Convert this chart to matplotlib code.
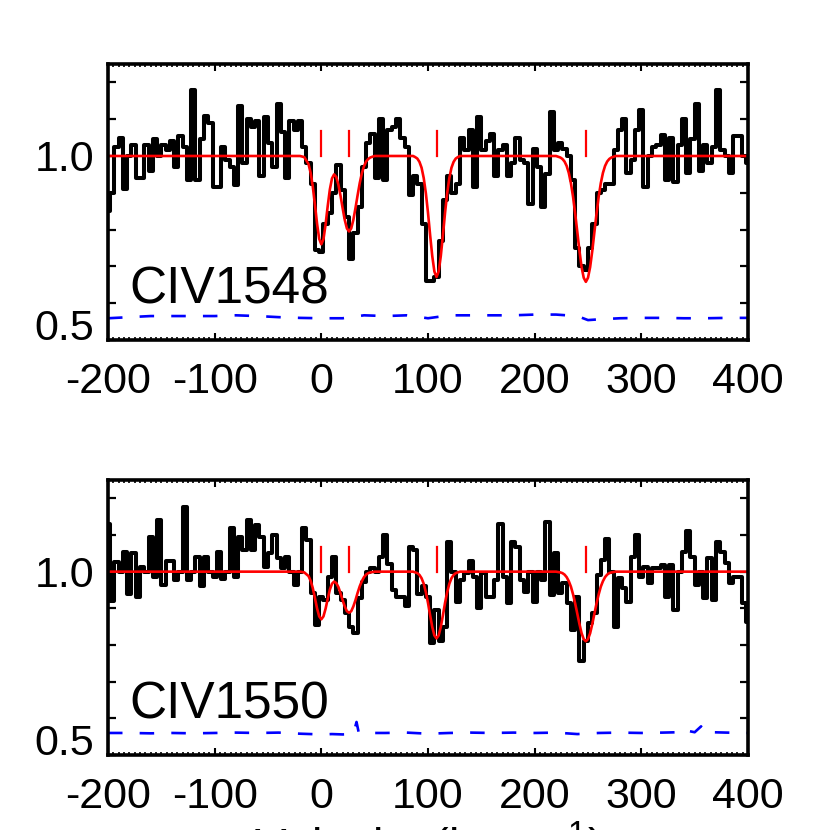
import numpy as np
import matplotlib
matplotlib.use("Agg")
import matplotlib.pyplot as plt
from matplotlib.ticker import MultipleLocator

plt.rcParams['font.family'] = ['Liberation Sans', 'DejaVu Sans']
plt.rcParams['axes.unicode_minus'] = False
plt.rcParams['mathtext.default'] = 'regular'

# velocity grid of the spectrum pixels (km/s)
vel = np.arange(-200, 401, 4)

# normalized flux, CIV 1548
flux_1548 = [
    0.85, 0.90, 1.025, 1.05, 0.91, 1.00, 1.03, 0.94, 0.94, 1.03,
    0.96, 1.045, 1.00, 1.03, 1.015, 1.04, 0.97, 1.055, 1.025, 0.935,
    1.18, 0.935, 1.045, 1.11, 1.09, 0.917, 0.917, 1.025, 0.99, 0.97,
    0.92, 1.135, 0.98, 1.10, 1.08, 1.095, 0.945, 1.105, 1.035, 0.97,
    1.14, 1.065, 0.94, 1.095, 1.07, 1.095, 1.025, 0.98, 0.925, 0.745,
    0.74, 0.815, 0.845, 0.90, 0.975, 0.907, 0.835, 0.72, 0.79, 0.86,
    0.97, 1.035, 1.06, 0.94, 1.10, 0.935, 1.07, 1.08, 1.10, 1.05,
    1.025, 0.895, 0.945, 0.925, 0.815, 0.66, 0.66, 0.67, 0.77, 0.88,
    0.945, 0.90, 0.925, 1.05, 1.015, 1.07, 0.917, 1.107, 1.015, 1.04,
    1.06, 0.945, 1.015, 1.03, 0.945, 0.98, 1.05, 0.99, 0.98, 0.87,
    1.02, 0.97, 0.86, 0.95, 1.12, 1.015, 1.035, 1.02, 1.00, 0.935,
    0.75, 0.70, 0.69, 0.75, 0.815, 0.90, 0.907, 0.925, 0.925, 1.015,
    1.07, 1.10, 0.955, 0.99, 1.07, 1.125, 0.917, 1.00, 1.025, 1.03,
    1.057, 0.935, 1.05, 0.93, 1.03, 1.10, 0.953, 1.045, 1.14, 0.96,
    1.03, 0.98, 1.025, 1.18, 1.015, 1.00, 0.953, 1.053, 1.053, 1.00,
    0.98,
]

# normalized flux, CIV 1550
flux_1550 = [
    1.13, 0.92, 1.027, 1.00, 1.054, 0.94, 1.05, 0.93, 1.014, 1.00,
    1.095, 0.986, 1.14, 0.964, 1.03, 1.03, 0.977, 1.00, 1.177, 0.977,
    1.00, 1.04, 0.96, 1.04, 1.00, 0.986, 1.054, 0.98, 1.00, 1.118,
    0.986, 1.095, 1.06, 1.14, 1.06, 1.127, 1.095, 1.014, 1.05, 1.10,
    1.036, 1.009, 1.04, 1.00, 0.964, 1.00, 1.118, 1.086, 0.941, 0.855,
    0.932, 0.923, 0.986, 1.04, 0.941, 0.923, 0.886, 0.85, 0.832, 0.927,
    0.973, 1.00, 1.01, 1.00, 1.04, 1.10, 1.02, 0.95, 0.932, 0.932,
    0.905, 1.068, 1.06, 0.94, 0.96, 0.932, 0.805, 0.895, 0.81, 0.85,
    1.08, 1.00, 0.918, 0.977, 0.995, 1.03, 0.986, 0.90, 0.995, 0.932,
    0.932, 0.977, 1.13, 0.986, 0.914, 1.08, 1.068, 0.977, 0.945, 1.00,
    0.918, 1.00, 0.977, 1.136, 0.936, 1.05, 0.941, 0.968, 0.914, 0.84,
    0.932, 0.755, 0.81, 0.859, 0.886, 0.99, 1.032, 1.09, 1.00, 0.85,
    0.982, 0.955, 0.918, 1.04, 1.10, 0.986, 1.014, 0.968, 1.009, 1.01,
    1.018, 0.932, 1.018, 0.895, 1.00, 1.054, 1.11, 1.04, 0.964, 1.00,
    0.927, 1.036, 0.923, 1.08, 1.054, 1.023, 0.968, 0.986, 0.986, 0.914,
    0.864,
]

# fitted model, sampled on a finer grid across the absorption
fit_vel = np.concatenate([[-200], [-20, -16, -12], np.arange(-10, 51, 2),
                          np.arange(86, 131, 2), np.arange(220, 277, 2), [400]])
fit_1548 = (
    [1.0]
    + [1.0, 0.997, 0.978, 0.954, 0.917, 0.868, 0.816, 0.775, 0.760, 0.774,
       0.814, 0.864, 0.909, 0.939, 0.950, 0.943, 0.922, 0.892, 0.858, 0.826,
       0.803, 0.795, 0.803, 0.826, 0.858, 0.893, 0.926, 0.953, 0.972, 0.985,
       0.992, 0.996, 0.998, 1.0]
    + [1.0, 0.997, 0.993, 0.984, 0.968, 0.940, 0.899, 0.846, 0.785, 0.728,
       0.686, 0.671, 0.686, 0.728, 0.785, 0.846, 0.899, 0.940, 0.968, 0.984,
       0.993, 0.997, 1.0]
    + [1.0, 0.998, 0.996, 0.992, 0.985, 0.973, 0.954, 0.926, 0.889, 0.843,
       0.793, 0.742, 0.698, 0.669, 0.658, 0.669, 0.698, 0.742, 0.793, 0.843,
       0.889, 0.926, 0.954, 0.973, 0.985, 0.992, 0.996, 0.998, 1.0]
    + [1.0]
)
fit_1550 = (
    [1.0]
    + [1.0, 0.998, 0.988, 0.975, 0.955, 0.928, 0.900, 0.878, 0.870, 0.878,
       0.899, 0.926, 0.951, 0.967, 0.973, 0.969, 0.958, 0.941, 0.922, 0.905,
       0.892, 0.888, 0.892, 0.905, 0.922, 0.942, 0.960, 0.974, 0.985, 0.992,
       0.996, 0.998, 0.999, 1.0]
    + [1.0, 0.998, 0.996, 0.991, 0.982, 0.967, 0.944, 0.915, 0.881, 0.849,
       0.826, 0.818, 0.826, 0.849, 0.881, 0.915, 0.944, 0.967, 0.982, 0.991,
       0.996, 0.998, 1.0]
    + [1.0, 0.999, 0.998, 0.996, 0.992, 0.985, 0.974, 0.959, 0.938, 0.913,
       0.885, 0.857, 0.832, 0.816, 0.810, 0.816, 0.832, 0.857, 0.885, 0.913,
       0.938, 0.959, 0.974, 0.985, 0.992, 0.996, 0.998, 0.999, 1.0]
    + [1.0]
)

# error spectrum (offset), blue dashed
err_vel_1548 = [-200, -180, -160, -140, -120, -100, -80, -60, -40, -20, 0, 20,
                40, 60, 80, 100, 120, 140, 160, 180, 200, 220, 240, 250, 260,
                280, 300, 320, 340, 360, 380, 400]
err_1548 = [0.559, 0.562, 0.565, 0.565, 0.565, 0.565, 0.567, 0.565, 0.562,
            0.560, 0.559, 0.559, 0.567, 0.565, 0.567, 0.559, 0.567, 0.567,
            0.567, 0.567, 0.569, 0.569, 0.565, 0.554, 0.556, 0.559, 0.560,
            0.560, 0.559, 0.559, 0.560, 0.560]
err_vel_1550 = [-200, -180, -160, -140, -120, -100, -80, -60, -40, -20, 0, 10,
                20, 30, 33, 35, 40, 60, 80, 100, 120, 140, 160, 180, 200, 220,
                240, 260, 280, 300, 320, 335, 340, 345, 350, 356, 358, 362,
                366, 380, 400]
err_1550 = [0.560, 0.560, 0.559, 0.560, 0.559, 0.560, 0.561, 0.560, 0.561,
            0.558, 0.556, 0.557, 0.556, 0.557, 0.590, 0.562, 0.560, 0.560,
            0.561, 0.558, 0.560, 0.561, 0.560, 0.561, 0.560, 0.561, 0.557,
            0.560, 0.561, 0.560, 0.561, 0.562, 0.572, 0.565, 0.562, 0.578,
            0.565, 0.570, 0.562, 0.561, 0.560]

# component velocities
components = [0, 26, 108, 248]

fig = plt.figure(figsize=(8.3, 8.3), dpi=100)
ax_top = fig.add_axes([0.1301, 0.5904, 0.7711, 0.3325])
ax_bot = fig.add_axes([0.1301, 0.0904, 0.7711, 0.3313])

panels = [
    (ax_top, flux_1548, fit_1548, err_vel_1548, err_1548, "CIV1548"),
    (ax_bot, flux_1550, fit_1550, err_vel_1550, err_1550, "CIV1550"),
]

for ax, flux, fit, err_v, err, name in panels:
    ax.step(vel, flux, where='mid', color='black', lw=2.9)
    ax.plot(fit_vel, fit, color='red', lw=1.9)
    ax.plot(err_v, err, color='blue', lw=1.9, dashes=(5.5, 6.5))
    for c in components:
        ax.plot([c, c], [1.0, 1.068], color='red', lw=1.6)
    ax.text(-180, 0.60, name, fontsize=37)

    ax.set_xlim(-200, 400)
    ax.set_ylim(0.5, 1.25)
    ax.set_xticks([-200, -100, 0, 100, 200, 300, 400],
                  ['-200', '-100', '0', '100', '200', '300', '400'])
    ax.xaxis.set_minor_locator(MultipleLocator(5))
    ax.set_yticks([0.5, 1.0], ['0.5', '1.0'])
    ax.yaxis.set_minor_locator(MultipleLocator(0.1))
    ax.tick_params(which='both', direction='in', top=True, right=True)
    ax.tick_params(axis='x', which='major', length=5, width=1.5, pad=16,
                   labelsize=31)
    ax.tick_params(axis='x', which='minor', length=2.5, width=1.2)
    ax.tick_params(axis='y', which='both', length=5.5, width=1.6, pad=10,
                   labelsize=31)
    ax.yaxis.get_major_ticks()[0].label1.set_va('baseline')
    for s in ax.spines.values():
        s.set_linewidth(2.6)

# axis titles sit partly outside the canvas, as in the original figure
fig.text(10 / 830, 0.494, "Normalized Flux", rotation=90, fontsize=34,
         ha='right', va='center')
fig.text(428 / 830, -32 / 830, "Velocity (km s$^{-1}$)", fontsize=34,
         ha='center', va='baseline')

fig.savefig("out.png", dpi=100)
